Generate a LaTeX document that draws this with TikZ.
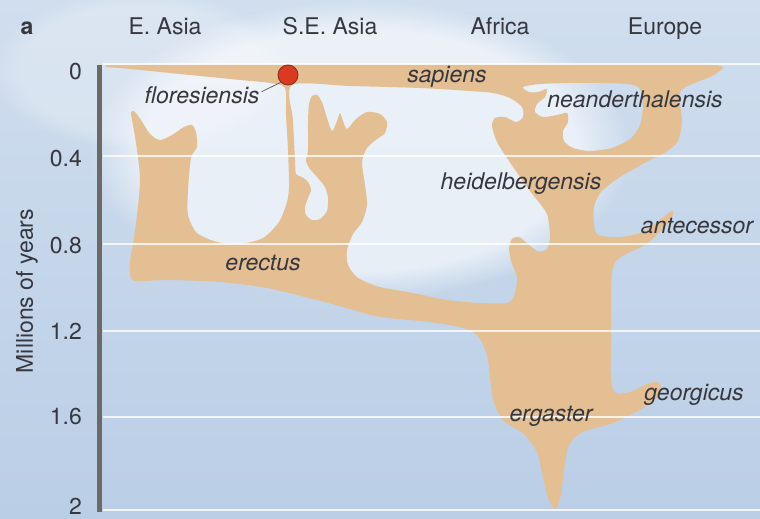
\documentclass[tikz,border=0pt]{standalone}
\usepackage{fontspec}
\setmainfont{TeX Gyre Heros}
\usetikzlibrary{fadings}
\definecolor{bgtop}{RGB}{208,222,238}
\definecolor{bgbot}{RGB}{186,206,230}
\definecolor{tanc}{RGB}{227,191,147}
\definecolor{txt}{RGB}{55,55,62}
\definecolor{axisc}{RGB}{108,106,104}
\definecolor{dotred}{RGB}{218,58,32}
\definecolor{dotrim}{RGB}{140,45,35}
\definecolor{leadc}{RGB}{85,85,90}
\begin{document}
\begin{tikzpicture}[x=1pt,y=-1pt,
  lab/.style={font=\fontsize{23}{27}\selectfont, text=txt, inner sep=0pt, anchor=base},
  sp/.style={font=\fontsize{23}{27}\selectfont\itshape, text=txt, inner sep=0pt, anchor=base},
  ticklab/.style={font=\fontsize{23}{27}\selectfont, text=txt, inner sep=0pt, anchor=east},
  gridline/.style={white, line width=1.2pt, opacity=0.8},
  fdotstyle/.style={circle, minimum size=20pt, inner sep=0pt, fill=dotred, draw=dotrim, line width=0.9pt},
  leader/.style={leadc, line width=0.7pt},
  axisbar/.style={axisc, line width=5pt}]
% background
\useasboundingbox (0,0) rectangle (760,519);
\fill[top color=bgtop, bottom color=bgbot] (0,0) rectangle (760,519);
\fill[white, opacity=0.6, path fading=circle with fuzzy edge 20 percent] (360,150) ellipse (270 and 150);
\fill[white, opacity=0.25, path fading=circle with fuzzy edge 20 percent] (140,70) ellipse (150 and 80);

% blob
\fill[tanc, even odd rule]
 plot[smooth cycle, tension=0.45] coordinates {
 (107,67) (112,65) (200,64.5) (300,64.5) (400,64.5) (500,64.5) (600,64.5) (700,64.5) (716,65) (723,68)
 (712,76) (697,82) (684,88) (679,96) (682,120) (678,141) (666,152) (650,160) (620,177) (601,192)
 (594,207) (594,224) (598,235) (620,237) (640,233) (655,224) (666,215) (673,211) (671,219) (660,232)
 (645,245) (628,253) (617,260) (612,272) (611,300) (611,340) (611,380) (616,393) (630,392) (647,384)
 (657,382) (662,388) (657,398) (640,410) (613,423) (583,432) (569,445) (564,470) (561,495) (555,509)
 (548,498) (542,473) (537,452) (524,434) (504,421) (494,403) (490,377) (487,355) (478,336) (463,328)
 (430,322) (380,317) (350,309) (317,300) (267,288) (220,282) (170,280) (140,281) (131,279) (130,262)
 (133,245) (137,215) (140,180) (137,150) (133,125) (131,113) (134,111) (141,120) (150,134) (160,140)
 (172,135) (184,127) (192,125) (196,132) (197,147) (191,158) (188,190) (188,215) (197,233) (217,242)
 (240,244) (263,238) (279,222) (287,202) (289,186) (288,150) (286,115) (285,88) (270,83) (240,80)
 (200,76) (150,71) (120,68)}
 plot[smooth cycle, tension=0.45] coordinates {
 (523,87) (540,84) (570,83) (600,83) (628,84) (640,89) (643,105) (640,125) (630,139) (612,148)
 (590,151) (573,148) (564,141) (563,131) (568,122) (567,113) (557,115) (543,117) (535,112) (537,104)
 (545,97) (547,89) (538,92) (529,92)}
 plot[smooth cycle, tension=0.45] coordinates {
 (292,85) (293,120) (295,160) (296,174) (302,177) (308,182) (311,190) (308,198) (305,207) (306,215)
 (312,220) (320,219) (327,211) (328,198) (325,187) (318,178) (310,169) (306,161) (308,150) (308,122)
 (309,104) (312,96) (317,95) (322,102) (327,118) (332,131) (337,121) (340,113) (343,121) (347,129)
 (356,119) (367,112) (380,114) (387,122) (385,133) (377,139) (367,148) (362,162) (365,185) (367,205)
 (362,222) (353,234) (347,250) (348,265) (358,278) (380,287) (413,293) (447,300) (480,303) (507,303)
 (514,296) (517,278) (511,261) (509,248) (512,239) (519,237) (527,243) (537,251) (546,250) (550,240)
 (549,225) (546,212) (527,187) (507,158) (497,142) (492,126) (495,118) (505,117) (516,122) (523,117)
 (522,107) (510,98) (493,93) (470,91) (420,88) (350,86)};

% grid lines
\draw[gridline] (103,64) -- (760,64);
\draw[gridline] (103,156) -- (760,156);
\draw[gridline] (103,244) -- (760,244);
\draw[gridline] (103,331) -- (760,331);
\draw[gridline] (103,417) -- (760,417);
\draw[gridline] (103,510) -- (760,510);

% axis
\coordinate (axtop) at (99.5,65);
\coordinate (axbot) at (99.5,512);
\draw[axisbar] (axtop) -- (axbot);
\node[ticklab] (t0) at (82,72) {0};
\node[ticklab] (t1) at (82,159) {0.4};
\node[ticklab] (t2) at (82,246) {0.8};
\node[ticklab] (t3) at (82,331) {1.2};
\node[ticklab] (t4) at (82,417) {1.6};
\node[ticklab] (t5) at (82,506) {2};
\node[font=\fontsize{23}{27}\selectfont, text=txt, inner sep=0pt, rotate=90] (ylab) at (27,291) {Millions of years};

% headers
\node[lab, font=\fontsize{23}{27}\selectfont\bfseries] (pa) at (27,35) {a};
\node[lab] (h1) at (165,35) {E. Asia};
\node[lab] (h2) at (330,35) {S.E. Asia};
\node[lab] (h3) at (500,35) {Africa};
\node[lab] (h4) at (665,35) {Europe};

% species
\node[sp] (sap) at (447,82) {sapiens};
\node[sp] (flo) at (202,103) {floresiensis};
\node[sp] (nea) at (635,107) {neanderthalensis};
\node[sp] (hei) at (521,189) {heidelbergensis};
\node[sp] (ant) at (697,233) {antecessor};
\node[sp] (ere) at (263,270) {erectus};
\node[sp] (erg) at (551,421) {ergaster};
\node[sp] (geo) at (694,400) {georgicus};

% floresiensis marker
\node[fdotstyle] (fdot) at (288,75) {};
\draw[leader] ([xshift=2pt,yshift=3pt]flo.east) -- (fdot.south west);
\end{tikzpicture}
\end{document}
